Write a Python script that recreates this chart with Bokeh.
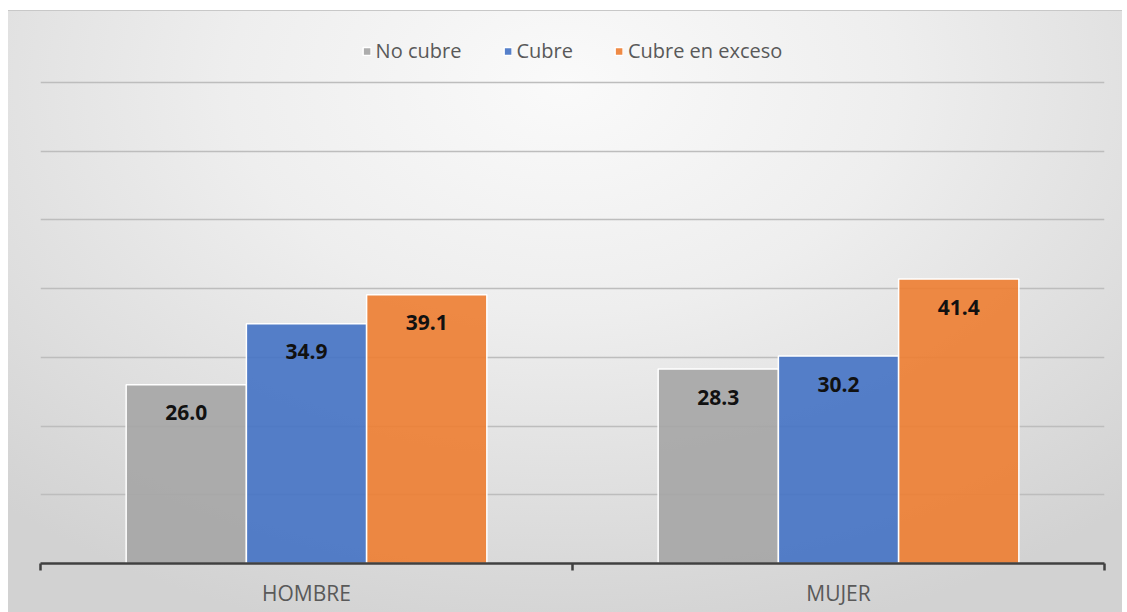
from bokeh.plotting import figure
from bokeh.models import (FactorRange, Range1d, LinearAxis, CategoricalAxis, FixedTicker,
                          ColumnDataSource, Legend, LegendItem, Grid)
from bokeh.transform import dodge
from bokeh.core.properties import value
from bokeh.embed import file_html
from bokeh.resources import INLINE

categories = ["HOMBRE", "MUJER"]
series_names = ["No cubre", "Cubre", "Cubre en exceso"]
no_cubre = [26.0, 28.3]
cubre = [34.9, 30.2]
cubre_exceso = [39.1, 41.4]
grid_ticks = [10, 20, 30, 40, 50, 60, 70]

colors = ["#a5a5a5", "#4472c4", "#ed7d31"]
cols = ["no_cubre", "cubre", "cubre_exceso"]

source = ColumnDataSource(dict(
    cat=categories,
    no_cubre=no_cubre, cubre=cubre, cubre_exceso=cubre_exceso,
    no_cubre_lbl=[f"{v:.1f}" for v in no_cubre],
    cubre_lbl=[f"{v:.1f}" for v in cubre],
    cubre_exceso_lbl=[f"{v:.1f}" for v in cubre_exceso],
))

p = figure(x_range=FactorRange(factors=categories, range_padding=0),
           y_range=Range1d(0, 80.34),
           width=1114, height=602, output_backend="svg", toolbar_location=None,
           x_axis_location=None, y_axis_location=None,
           min_border_left=32, min_border_right=18, min_border_top=0, min_border_bottom=50)
p.margin = (10, 0, 0, 8)
p.center = [r for r in p.center if not isinstance(r, Grid)]
p.border_fill_color = None
p.background_fill_color = None
p.outline_line_color = None
p.styles = {"background": "radial-gradient(ellipse 75% 95% at 50% 12%, #fafafa 0%, #eeeeee 40%, #d2d2d2 100%)",
            "border-top": "1px solid #c8c8c8"}

p.add_layout(Grid(dimension=1, ticker=FixedTicker(ticks=grid_ticks),
                  grid_line_color="#bdbdbd", grid_line_width=1.5), "center")

bw = 0.226
offsets = [-bw, 0.0, bw]
items = []
for col, name, color, off in zip(cols, series_names, colors, offsets):
    r = p.vbar(x=dodge("cat", off, range=p.x_range), top=col, width=bw, source=source,
               fill_color=color, fill_alpha=0.9, line_color="white", line_width=1.5)
    items.append(LegendItem(label=name, renderers=[r]))
    p.text(x=dodge("cat", off, range=p.x_range), y=col, text=col + "_lbl", source=source,
           y_offset=28, text_align="center", text_baseline="middle",
           text_font=value("Open Sans"), text_font_style="bold", text_font_size="21px",
           text_color="#111111")

tick_axis = LinearAxis(ticker=FixedTicker(ticks=list(range(len(categories) + 1))),
                       axis_line_color="#404040", axis_line_width=2.5,
                       major_tick_line_color="#404040", major_tick_line_width=2.5,
                       major_tick_out=7, major_tick_in=0, minor_tick_line_color=None,
                       major_label_text_color=None, major_label_standoff=0)
p.add_layout(tick_axis, "below")
cat_axis = CategoricalAxis(axis_line_color=None, major_tick_line_color=None,
                           minor_tick_line_color=None, major_label_standoff=2,
                           major_label_text_font="Open Sans",
                           major_label_text_font_size="21px",
                           major_label_text_color="#595959")
p.add_layout(cat_axis, "below")

legend = Legend(items=items, location="top_center", orientation="horizontal",
                background_fill_alpha=0, border_line_color=None,
                label_text_font="Open Sans", label_text_font_size="20px",
                label_text_color="#595959", glyph_width=10, glyph_height=10,
                label_standoff=4, spacing=41, padding=0, margin=26)
p.add_layout(legend)

open("out.html", "w").write(file_html(p, INLINE))
